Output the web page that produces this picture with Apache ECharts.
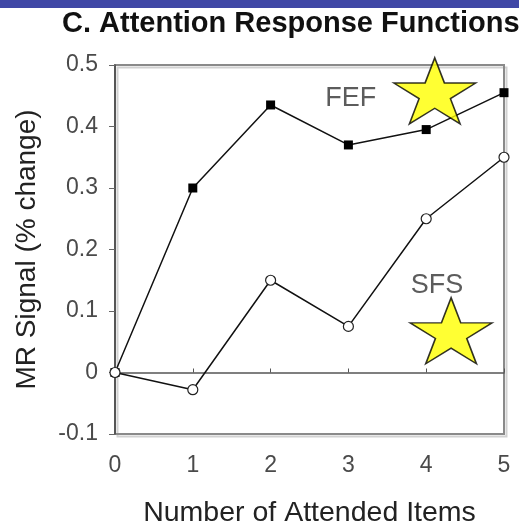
<!DOCTYPE html>
<html>
<head>
<meta charset="utf-8">
<script src="https://cdn.jsdelivr.net/npm/echarts@6/dist/echarts.min.js"></script>
<style>
  html, body { margin: 0; padding: 0; background: #ffffff; }
  #bar { position: absolute; left: 0; top: 0; width: 519px; height: 8px; background: #4047a6; }
  #chart { position: absolute; left: 0; top: 0; width: 519px; height: 522px; }
</style>
</head>
<body>
<div id="chart"></div>
<div id="bar"></div>
<script>
// Number of attended items (x) and MR signal change (% change) per region
const items = [0, 1, 2, 3, 4, 5];
const fef = [0, 0.30, 0.435, 0.37, 0.395, 0.455];
const sfs = [0, -0.028, 0.15, 0.075, 0.25, 0.35];
const yTicks = [-0.1, 0, 0.1, 0.2, 0.3, 0.4, 0.5];

// Region labels and star highlights, in data units
const regionLabels = [
  { name: 'FEF', x: 3.03, y: 0.446 },
  { name: 'SFS', x: 4.14, y: 0.141 }
];
const starMarks = [
  { name: 'FEF', x: 4.11, y: 0.458 },
  { name: 'SFS', x: 4.32, y: 0.068 }
];

// Five-pointed star outline as an SVG path
function starPath() {
  const R = 50, r = 19.1;
  let d = '';
  for (let i = 0; i < 10; i++) {
    const a = (-90 + i * 36) * Math.PI / 180;
    const rad = i % 2 === 0 ? R : r;
    const px = (R + rad * Math.cos(a)).toFixed(2);
    const py = (R + rad * Math.sin(a)).toFixed(2);
    d += (i === 0 ? 'M' : 'L') + px + ',' + py;
  }
  return 'path://' + d + 'Z';
}

const font = 'Liberation Sans, Arial, Helvetica, sans-serif';
const chart = echarts.init(document.getElementById('chart'), null, { renderer: 'canvas' });

chart.setOption({
  animation: false,
  backgroundColor: '#ffffff',
  title: {
    text: 'C. Attention Response Functions',
    left: 57,
    top: 4,
    textStyle: { fontFamily: font, fontWeight: 'bold', fontSize: 29, color: '#111111' }
  },
  grid: {
    left: 115, right: 15, top: 65, bottom: 88,
    containLabel: false, outerBoundsMode: 'none',
    show: true, borderColor: '#8a8a8a', borderWidth: 2, backgroundColor: 'transparent',
    shadowColor: 'rgba(0,0,0,0.18)', shadowBlur: 0, shadowOffsetX: 2.5, shadowOffsetY: 2.5
  },
  xAxis: [
    {
      type: 'value', min: 0, max: 5, interval: 1, position: 'bottom',
      axisLine: { onZero: false, show: false },
      axisTick: { show: false },
      splitLine: { show: false },
      axisLabel: { margin: 20, fontFamily: font, fontSize: 23, color: '#4a4a4a' },
      name: 'Number of Attended Items', nameLocation: 'middle', nameGap: 65,
      nameTextStyle: { fontFamily: font, fontSize: 28.5, color: '#222222' }
    },
    {
      type: 'value', min: 0, max: 5, interval: 1, position: 'top',
      axisLine: { onZero: true, show: true, lineStyle: { color: '#555555', width: 1.5 } },
      axisTick: { show: true, length: 4, lineStyle: { color: '#555555' } },
      axisLabel: { show: false },
      splitLine: { show: false }
    }
  ],
  yAxis: {
    type: 'value', min: -0.1, max: 0.5, interval: 0.1,
    axisLine: { show: true, onZero: false, lineStyle: { color: '#444444', width: 1.5 } },
    axisTick: { show: true, length: 6, lineStyle: { color: '#666666' } },
    splitLine: { show: false },
    axisLabel: {
      margin: 17, padding: [10, 0, 0, 0], fontFamily: font, fontSize: 23, color: '#4a4a4a',
      formatter: v => {
        const t = yTicks.find(k => Math.abs(k - v) < 1e-9);
        return t === undefined ? '' : String(t);
      }
    },
    name: 'MR Signal (% change)', nameLocation: 'middle', nameGap: 74,
    nameTextStyle: { fontFamily: font, fontSize: 28, color: '#222222' }
  },
  series: [
    {
      name: 'FEF', type: 'line', xAxisIndex: 0,
      data: items.map((x, i) => [x, fef[i]]),
      symbol: 'rect', symbolSize: 9, showAllSymbol: true,
      lineStyle: { color: '#111111', width: 1.5 },
      itemStyle: { color: '#000000', borderColor: '#000000', borderWidth: 0 },
      z: 3
    },
    {
      name: 'SFS', type: 'line', xAxisIndex: 0,
      data: items.map((x, i) => [x, sfs[i]]),
      symbol: 'circle', symbolSize: 10, showAllSymbol: true,
      lineStyle: { color: '#111111', width: 1.5 },
      itemStyle: { color: '#ffffff', borderColor: '#222222', borderWidth: 1.2 },
      z: 4
    },
    {
      name: 'regions', type: 'scatter', xAxisIndex: 0,
      data: regionLabels.map(d => ({ name: d.name, value: [d.x, d.y] })),
      symbolSize: 0, silent: true,
      label: {
        show: true, position: 'inside', formatter: p => p.name,
        fontFamily: font, fontSize: 27, color: '#333333'
      },
      z: 5
    },
    {
      name: 'stars', type: 'scatter', xAxisIndex: 0,
      data: starMarks.map(d => ({ name: d.name, value: [d.x, d.y] })),
      symbol: starPath(), symbolSize: [82, 66], clip: false, silent: true,
      itemStyle: { color: '#ffff00', borderColor: '#000000', borderWidth: 1.5 },
      z: 6
    }
  ]
});
</script>
</body>
</html>
